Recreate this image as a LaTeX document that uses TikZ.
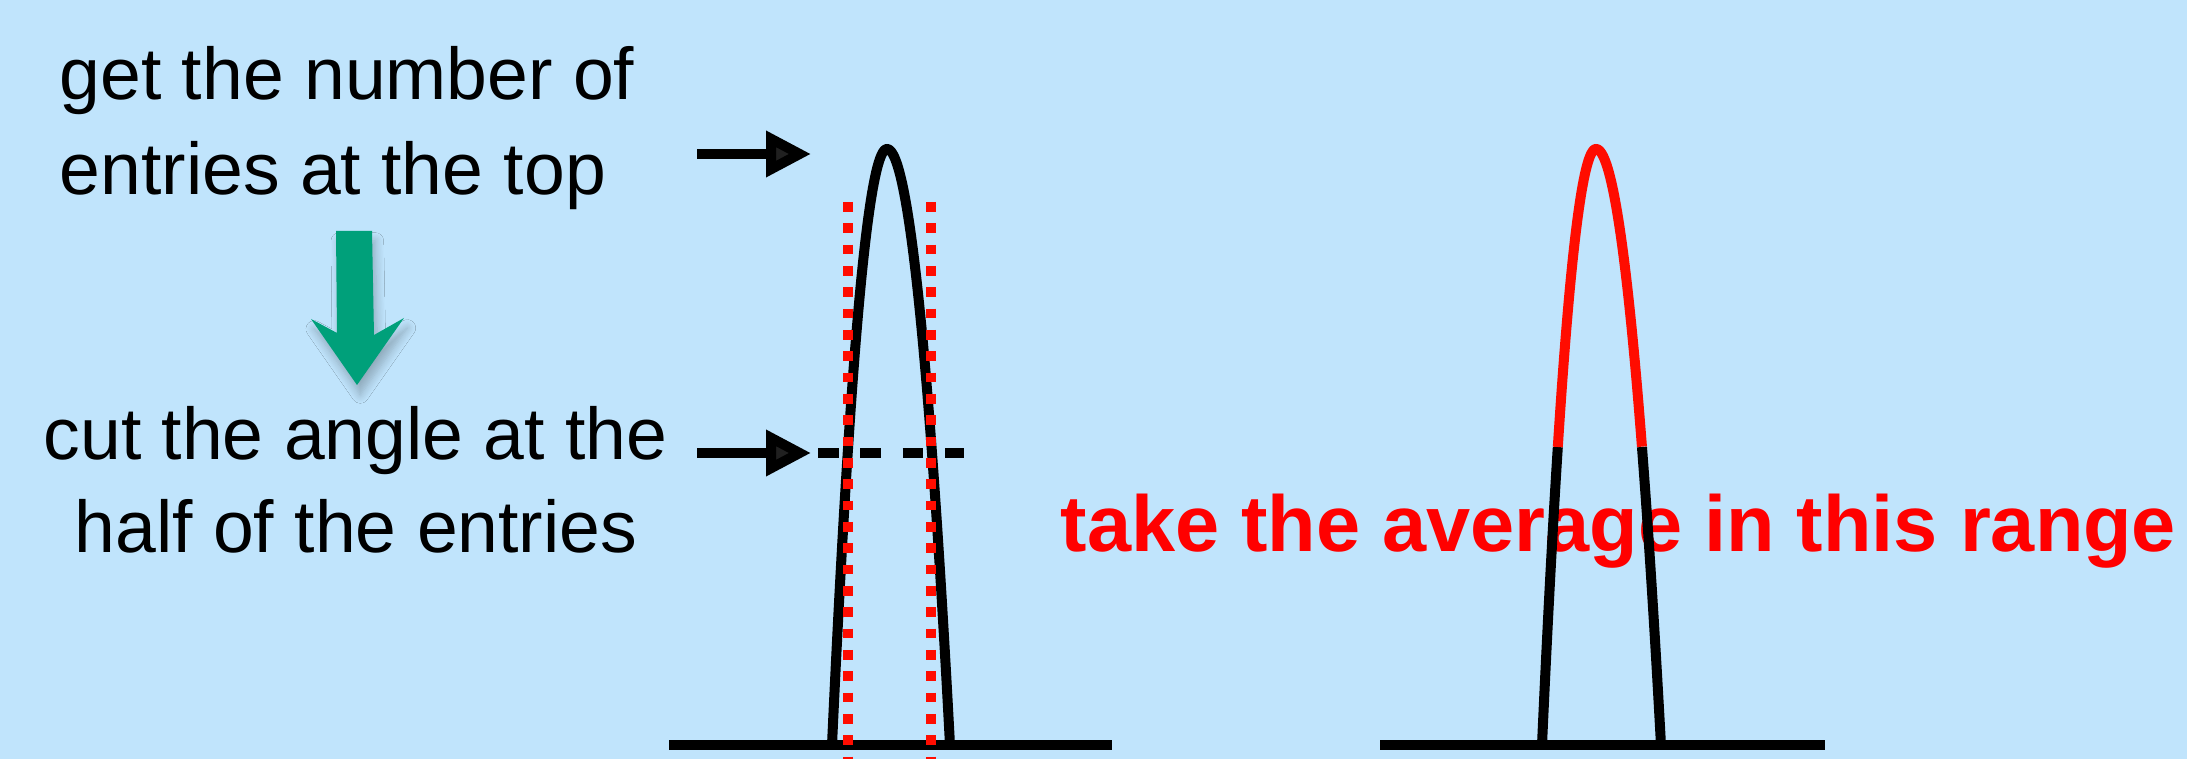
\documentclass[tikz,border=0pt]{standalone}
\usepackage{fontspec}
\setmainfont{Liberation Sans}
\usetikzlibrary{arrows.meta,shadows.blur}
\definecolor{bgblue}{RGB}{192,228,252}
\definecolor{arrowgreen}{RGB}{0,160,122}
\definecolor{redc}{RGB}{255,12,0}
\begin{document}
\begin{tikzpicture}[x=0.3pt,y=-0.3pt,
  txt/.style={inner sep=0pt,anchor=base west,font=\fontsize{22}{26}\selectfont},
  redtxt/.style={inner sep=0pt,anchor=base west,text=red,font=\fontsize{23.8}{28}\selectfont\bfseries},
  curve/.style={line width=3pt,line join=round},
  redcurve/.style={line width=3pt,line join=round,draw=redc},
  baseln/.style={line width=3.2pt},
  pointer/.style={line width=3pt,-{Triangle[length=13.5pt,width=13.2pt]}},
  cutline/.style={line width=3pt,dash pattern=on 6.2pt off 6.5pt},
  reddots/.style={line width=3.2pt,draw=redc,dash pattern=on 2.9pt off 3.5pt},
  greenarrow/.style={fill=arrowgreen,draw=none,blur shadow={shadow xshift=1pt,shadow yshift=-3pt,shadow blur steps=8,shadow opacity=25,shadow blur radius=2.5pt}}]
\fill[bgblue] (0,0) rectangle (2187,759);
\useasboundingbox (0,0) rectangle (2187,759);

% left texts
\node[txt] (t1) at (59,100) {get the number of};
\node[txt] (t2) at (59,195) {entries at the top};
\node[txt] (t3) at (43,460) {cut the angle at the};
\node[txt] (t4) at (74,553) {half of the entries};

% green arrow
\path[greenarrow] (336,231) -- (372,231) -- (374,335) -- (404,318) -- (357,385) -- (311,319) -- (337,333) -- cycle;

% red text
\node[redtxt] (avg) at (1060,552) {take the average in this range};

% left peak
\draw[baseln] (669,745) -- (1112,745);
\draw[curve] plot[domain=-1:0,samples=60] ({887+55*\x},{149+596*\x*\x})
  -- plot[domain=0:1,samples=60] ({887+63*\x},{149+596*\x*\x});

% pointer arrows
\coordinate (a1s) at (697,154);
\coordinate (a1e) at (811,154);
\coordinate (a2s) at (697,453);
\coordinate (a2e) at (811,453);
\draw[pointer] (a1s) -- (a1e);
\draw[pointer] (a2s) -- (a2e);
\coordinate (c1) at (818,453);
\coordinate (c2) at (964,453);
\draw[cutline] (c1) -- (c2);

% red dotted limits
\coordinate (l1) at (848,202);
\coordinate (l2) at (848,759);
\coordinate (r1) at (931,202);
\coordinate (r2) at (931,759);
\draw[reddots] (l1) -- (l2);
\draw[reddots] (r1) -- (r2);

% right peak
\draw[baseln] (1380,745) -- (1825,745);
\draw[curve] plot[domain=-1:-0.7071,samples=20] ({1596+54*\x},{149+596*\x*\x});
\draw[curve] plot[domain=0.7071:1,samples=20] ({1596+65*\x},{149+596*\x*\x});
\draw[redcurve] plot[domain=-0.7071:0,samples=60] ({1596+54*\x},{149+596*\x*\x})
  -- plot[domain=0:0.7071,samples=60] ({1596+65*\x},{149+596*\x*\x});
\end{tikzpicture}
\end{document}
